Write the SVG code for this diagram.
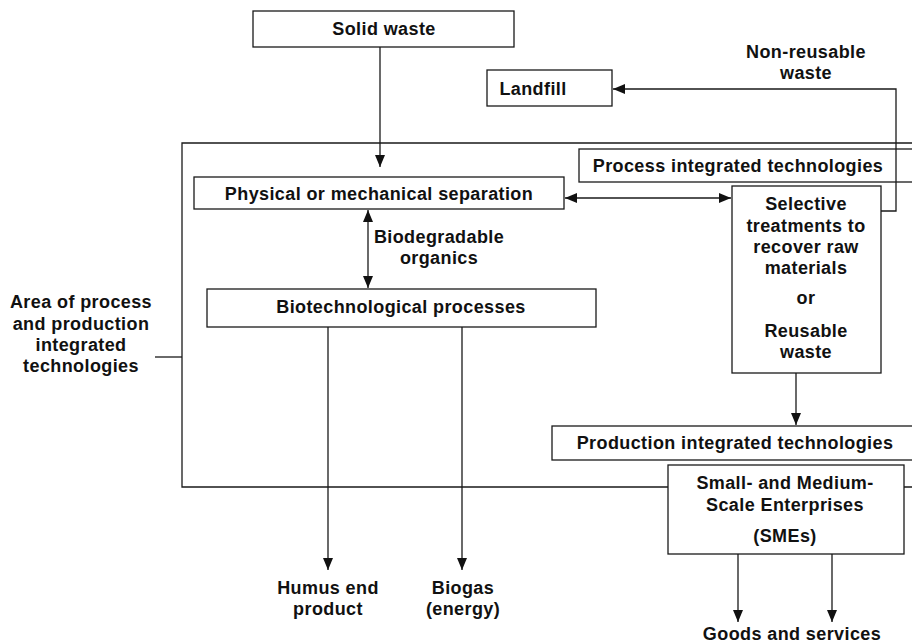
<svg xmlns="http://www.w3.org/2000/svg" width="912" height="644" viewBox="0 0 912 644">
<style>
.box{fill:#fff;stroke:#1a1a1a;stroke-width:1.3}
.ln{fill:none;stroke:#1a1a1a;stroke-width:1.3}
text{font-family:"Liberation Sans",Arial,sans-serif;font-weight:bold;font-size:18px;letter-spacing:0.4px;fill:#111;text-anchor:middle}
</style>
<defs>
<marker id="ah" viewBox="0 0 12 10" refX="12" refY="5" markerWidth="12" markerHeight="10" markerUnits="userSpaceOnUse" orient="auto-start-reverse">
<path d="M0,0 L12,5 L0,10 Z" fill="#111"/>
</marker>
</defs>
<g id="area">
<path class="ln" d="M912,143 H182 V487 H912"/>
<path class="ln" d="M155,357 H182"/>
<text x="81" y="308">Area of process</text>
<text x="81" y="330">and production</text>
<text x="81" y="351">integrated</text>
<text x="81" y="372">technologies</text>
</g>
<g id="solid-waste"><rect class="box" x="253" y="11" width="261" height="36"/><text x="384" y="35">Solid waste</text></g>
<g id="landfill"><rect class="box" x="487" y="70" width="125" height="36"/><text x="533" y="95">Landfill</text></g>
<g id="non-reusable-label"><text x="806" y="58">Non-reusable</text><text x="806" y="79">waste</text></g>
<g id="process-integrated"><rect class="box" x="579" y="149" width="340" height="33"/><text x="738" y="172">Process integrated technologies</text></g>
<g id="physical-separation"><rect class="box" x="194" y="177" width="370" height="32"/><text x="379" y="200">Physical or mechanical separation</text></g>
<g id="selective"><rect class="box" x="732" y="186" width="149" height="187"/>
<text x="806" y="210">Selective</text><text x="806" y="232">treatments to</text><text x="806" y="253">recover raw</text><text x="806" y="274">materials</text><text x="806" y="304">or</text><text x="806" y="337">Reusable</text><text x="806" y="358">waste</text></g>
<g id="biodegradable-label"><text x="439" y="243">Biodegradable</text><text x="439" y="264">organics</text></g>
<g id="biotech"><rect class="box" x="207" y="289" width="389" height="38"/><text x="401" y="313">Biotechnological processes</text></g>
<g id="production-integrated"><rect class="box" x="552" y="426" width="370" height="34"/><text x="735" y="449">Production integrated technologies</text></g>
<g id="smes"><rect class="box" x="668" y="465" width="236" height="89"/><text x="785" y="489">Small- and Medium-</text><text x="785" y="511">Scale Enterprises</text><text x="785" y="542">(SMEs)</text></g>
<g id="outputs"><text x="328" y="594">Humus end</text><text x="328" y="615">product</text><text x="463" y="594">Biogas</text><text x="463" y="615">(energy)</text><text x="792" y="640">Goods and services</text></g>
<g id="connectors">
<path class="ln" d="M380,47 V167" marker-end="url(#ah)"/>
<path class="ln" d="M881,211 H896 V89 H613" marker-end="url(#ah)"/>
<path class="ln" d="M565,198 H731" marker-start="url(#ah)" marker-end="url(#ah)"/>
<path class="ln" d="M368,210 V288" marker-start="url(#ah)" marker-end="url(#ah)"/>
<path class="ln" d="M328,327 V570" marker-end="url(#ah)"/>
<path class="ln" d="M462,327 V570" marker-end="url(#ah)"/>
<path class="ln" d="M796,373 V425" marker-end="url(#ah)"/>
<path class="ln" d="M738,554 V622" marker-end="url(#ah)"/>
<path class="ln" d="M832,554 V622" marker-end="url(#ah)"/>
</g>
</svg>
